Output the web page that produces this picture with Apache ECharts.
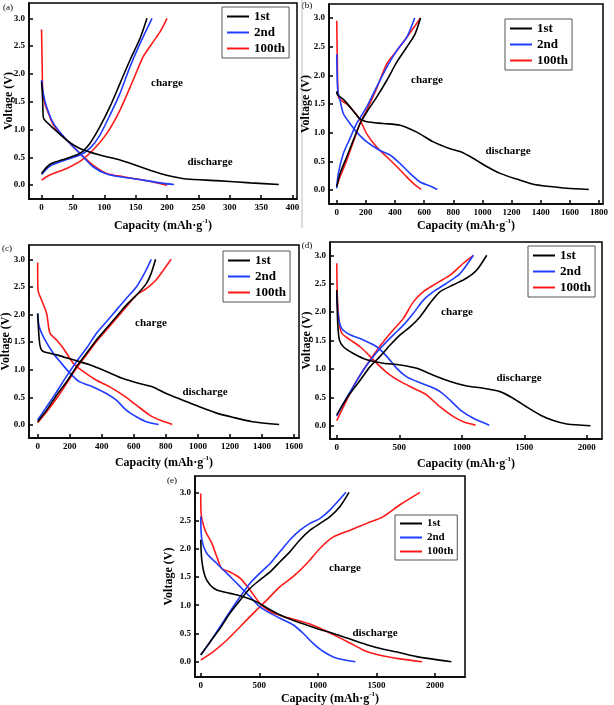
<!DOCTYPE html>
<html>
<head>
<meta charset="utf-8">
<script src="https://cdn.jsdelivr.net/npm/echarts@6/dist/echarts.min.js"></script>
<style>
  html, body { margin: 0; padding: 0; background: #fff; }
  #chart { width: 614px; height: 705px; }
</style>
</head>
<body>
<div id="chart"></div>
<script>
// capacity (mAh/g), voltage (V)
// panel (a)
var a1Dis = [[0,1.85],[1.5,1.6],[2.7,1.23],[5,1.17],[19,1.02],[40,0.81],[61,0.66],[93,0.54],[125,0.45],[157,0.33],[189,0.21],[210,0.15],[231,0.11],[279,0.08],[333,0.04],[378,0.01]];
var a1Chg = [[0,0.21],[13,0.37],[40,0.48],[61,0.57],[77,0.75],[93,1.05],[109,1.41],[125,1.83],[141,2.25],[157,2.64],[168,3.0]];
var a2Dis = [[0,1.89],[2.7,1.65],[8,1.41],[19,1.11],[40,0.81],[61,0.57],[82,0.33],[104,0.2],[130,0.14],[162,0.09],[189,0.04],[211,0.01]];
var a2Chg = [[0,0.19],[13,0.34],[40,0.46],[61,0.54],[77,0.66],[93,0.9],[109,1.26],[125,1.65],[141,2.13],[157,2.55],[176,3.0]];
var a3Dis = [[0,2.8],[1,2.13],[2,1.65],[5,1.47],[11,1.29],[19,1.08],[40,0.81],[61,0.57],[82,0.36],[104,0.21],[130,0.15],[157,0.1],[184,0.04],[200,0.0]];
var a3Chg = [[0,0.09],[13,0.18],[40,0.3],[64,0.45],[82,0.63],[104,0.93],[125,1.35],[146,1.89],[162,2.31],[178,2.58],[189,2.76],[200,3.0]];
// panel (b)
var b1Dis = [[0,1.72],[5,1.66],[46,1.58],[91,1.45],[160,1.24],[206,1.19],[320,1.16],[435,1.13],[549,1.01],[663,0.84],[778,0.72],[846,0.67],[938,0.55],[1029,0.41],[1121,0.29],[1235,0.19],[1349,0.1],[1464,0.06],[1578,0.03],[1730,0.01]];
var b1Chg = [[0,0.06],[23,0.29],[69,0.58],[114,0.87],[160,1.16],[206,1.36],[274,1.62],[343,1.91],[412,2.23],[480,2.49],[537,2.72],[575,3.0]];
var b2Dis = [[0,2.37],[7,1.74],[23,1.56],[46,1.33],[91,1.16],[137,1.01],[206,0.84],[297,0.69],[366,0.61],[435,0.46],[503,0.29],[572,0.14],[640,0.07],[690,0.01]];
var b2Chg = [[0,0.03],[11,0.29],[46,0.64],[91,0.9],[137,1.16],[206,1.45],[274,1.8],[343,2.14],[412,2.43],[480,2.66],[535,3.0]];
var b3Dis = [[0,2.95],[5,2.14],[11,1.62],[34,1.56],[91,1.45],[160,1.22],[206,0.98],[274,0.75],[343,0.58],[412,0.41],[480,0.23],[537,0.09],[580,0.01]];
var b3Chg = [[0,0.06],[23,0.23],[69,0.52],[114,0.84],[160,1.16],[206,1.39],[274,1.77],[343,2.2],[412,2.43],[480,2.66],[575,3.0]];
// panel (c)
var c1Dis = [[0,2.02],[10,1.54],[19,1.39],[35,1.33],[118,1.27],[222,1.18],[325,1.09],[429,0.97],[533,0.84],[636,0.75],[719,0.69],[802,0.57],[906,0.45],[1010,0.33],[1113,0.22],[1217,0.14],[1341,0.06],[1507,0.01]];
var c1Chg = [[0,0.06],[56,0.27],[118,0.54],[180,0.78],[243,1.06],[305,1.3],[367,1.54],[429,1.75],[491,1.96],[553,2.17],[616,2.35],[678,2.56],[709,2.75],[736,3.0]];
var c2Dis = [[0,2.02],[10,1.78],[46,1.54],[97,1.3],[139,1.15],[201,0.94],[263,0.78],[346,0.69],[429,0.57],[491,0.45],[553,0.27],[616,0.15],[678,0.06],[755,0.01]];
var c2Chg = [[0,0.09],[56,0.33],[118,0.6],[180,0.88],[243,1.15],[305,1.39],[367,1.66],[429,1.87],[491,2.08],[553,2.29],[616,2.5],[667,2.75],[709,3.0]];
var c3Dis = [[0,2.94],[2,2.44],[25,2.26],[56,2.02],[77,1.66],[118,1.54],[160,1.39],[222,1.12],[284,0.97],[367,0.81],[450,0.69],[533,0.54],[616,0.36],[699,0.18],[771,0.08],[840,0.01]];
var c3Chg = [[0,0.04],[56,0.24],[118,0.48],[180,0.75],[243,1.03],[305,1.27],[367,1.51],[429,1.72],[491,1.93],[553,2.14],[616,2.35],[678,2.47],[740,2.63],[833,3.0]];
// panel (d)
var d1Dis = [[0,2.39],[8,1.8],[21,1.51],[53,1.39],[133,1.27],[240,1.16],[373,1.1],[507,1.07],[640,1.01],[773,0.89],[907,0.78],[1040,0.7],[1173,0.66],[1307,0.6],[1413,0.48],[1520,0.33],[1627,0.19],[1733,0.09],[1840,0.03],[2030,0.0]];
var d1Chg = [[0,0.19],[53,0.39],[107,0.57],[187,0.8],[267,1.04],[347,1.22],[427,1.42],[507,1.6],[587,1.74],[667,1.92],[747,2.16],[827,2.36],[933,2.48],[1040,2.6],[1120,2.74],[1200,3.0]];
var d2Dis = [[0,2.33],[13,1.92],[40,1.71],[107,1.6],[213,1.51],[320,1.39],[400,1.22],[480,1.01],[560,0.86],[640,0.78],[747,0.69],[827,0.6],[907,0.45],[987,0.28],[1093,0.13],[1220,0.01]];
var d2Chg = [[0,0.17],[53,0.39],[133,0.69],[213,0.98],[293,1.22],[373,1.42],[453,1.6],[533,1.77],[613,1.98],[693,2.21],[773,2.36],[880,2.51],[987,2.68],[1093,3.0]];
var d3Dis = [[0,2.86],[5,2.27],[21,1.8],[40,1.63],[107,1.51],[187,1.39],[267,1.22],[347,1.04],[427,0.89],[507,0.78],[613,0.66],[720,0.54],[827,0.33],[933,0.16],[1013,0.07],[1110,0.01]];
var d3Chg = [[0,0.09],[53,0.33],[133,0.69],[213,0.98],[293,1.24],[373,1.48],[453,1.69],[533,1.89],[613,2.18],[693,2.36],[800,2.51],[907,2.65],[1013,2.86],[1093,3.0]];
// panel (e)
var e1Dis = [[0,2.16],[9,1.8],[37,1.51],[80,1.36],[137,1.27],[250,1.21],[364,1.15],[478,1.06],[592,0.92],[706,0.8],[848,0.69],[990,0.59],[1132,0.5],[1275,0.4],[1417,0.3],[1559,0.22],[1701,0.16],[1844,0.09],[2140,0.0]];
var e1Chg = [[0,0.12],[80,0.35],[165,0.59],[250,0.86],[336,1.09],[421,1.3],[506,1.45],[592,1.59],[677,1.77],[762,1.95],[848,2.16],[933,2.33],[1019,2.45],[1104,2.57],[1189,2.75],[1266,3.0]];
var e2Dis = [[0,2.57],[9,2.16],[51,1.92],[137,1.74],[250,1.51],[336,1.33],[421,1.15],[506,0.97],[592,0.86],[706,0.74],[791,0.65],[876,0.5],[962,0.32],[1047,0.18],[1161,0.06],[1320,0.0]];
var e2Chg = [[0,0.12],[80,0.35],[165,0.62],[250,0.89],[336,1.15],[421,1.39],[506,1.57],[592,1.74],[677,1.95],[762,2.16],[848,2.33],[933,2.45],[1019,2.54],[1104,2.69],[1240,3.0]];
var e3Dis = [[0,2.98],[3,2.63],[37,2.33],[94,2.1],[137,1.86],[179,1.65],[250,1.59],[336,1.48],[421,1.27],[506,1.03],[592,0.89],[706,0.8],[848,0.72],[990,0.62],[1132,0.48],[1275,0.33],[1417,0.18],[1559,0.1],[1701,0.05],[1890,0.0]];
var e3Chg = [[0,0.03],[108,0.18],[222,0.38],[336,0.62],[450,0.86],[563,1.09],[677,1.33],[791,1.51],[905,1.74],[1019,2.01],[1132,2.21],[1275,2.33],[1417,2.45],[1559,2.57],[1701,2.78],[1872,3.0]];

var cycles = ['1st', '2nd', '100th'];
var voltTicks = [0, 0.5, 1.0, 1.5, 2.0, 2.5, 3.0];
var capTicksA = [0, 50, 100, 150, 200, 250, 300, 350, 400];
var capTicksB = [0, 200, 400, 600, 800, 1000, 1200, 1400, 1600, 1800];
var capTicksC = [0, 200, 400, 600, 800, 1000, 1200, 1400, 1600];
var capTicksD = [0, 500, 1000, 1500, 2000];
var capTicksE = [0, 500, 1000, 1500, 2000];

var colors = ['#000000', '#1f3cff', '#ff1a1a'];
var FONT = '"Liberation Serif", "Times New Roman", serif';

// layout of each panel (pixels) and axis extents
var panels = [
  { tag: '(a)', grid: [29, 3, 268, 196], x: [-20, 407], y: [-0.25, 3.275], ticks: capTicksA,
    data: [[a1Dis, a1Chg], [a2Dis, a2Chg], [a3Dis, a3Chg]],
    legend: [222, 7], lgFont: 13, xGap: 19, yGap: 14,
    charge: [167, 83], discharge: [210, 162], tagPos: [8, 8] },
  { tag: '(b)', grid: [329, 4, 274, 200], x: [-53, 1827], y: [-0.244, 3.244], ticks: capTicksB,
    data: [[b1Dis, b1Chg], [b2Dis, b2Chg], [b3Dis, b3Chg]],
    legend: [505, 19], lgFont: 13, xGap: 14, yGap: 17,
    charge: [427, 80], discharge: [508, 151], tagPos: [307, 6] },
  { tag: '(c)', grid: [29, 245, 270, 193], x: [-54, 1631], y: [-0.235, 3.259], ticks: capTicksC,
    data: [[c1Dis, c1Chg], [c2Dis, c2Chg], [c3Dis, c3Chg]],
    legend: [223, 251], lgFont: 13, xGap: 17, yGap: 17,
    charge: [151, 323], discharge: [205, 392], tagPos: [7, 249] },
  { tag: '(d)', grid: [330, 242, 272, 197], x: [-54, 2122], y: [-0.234, 3.234], ticks: capTicksD,
    data: [[d1Dis, d1Chg], [d2Dis, d2Chg], [d3Dis, d3Chg]],
    legend: [528, 246], lgFont: 13, xGap: 17, yGap: 17,
    charge: [457, 312], discharge: [519, 378], tagPos: [307, 246] },
  { tag: '(e)', grid: [195, 476, 270, 201], x: [-49, 2256], y: [-0.271, 3.289], ticks: capTicksE,
    data: [[e1Dis, e1Chg], [e2Dis, e2Chg], [e3Dis, e3Chg]],
    legend: [395, 515], lgFont: 11, xGap: 14, yGap: 20,
    charge: [345, 568], discharge: [375, 633], tagPos: [172, 481] }
];

var nameStyle = {
  fontFamily: FONT, fontWeight: 'bold', fontSize: 12, color: '#000',
  rich: {
    n: { fontFamily: FONT, fontWeight: 'bold', fontSize: 12, color: '#000', lineHeight: 14, verticalAlign: 'bottom' },
    s: { fontFamily: FONT, fontWeight: 'bold', fontSize: 7, color: '#000', lineHeight: 14, verticalAlign: 'top' }
  }
};

var grids = [], xAxes = [], yAxes = [], series = [], legends = [], graphics = [];

panels.forEach(function (p, i) {
  grids.push({
    left: p.grid[0], top: p.grid[1], width: p.grid[2], height: p.grid[3],
    show: true, borderColor: '#000', borderWidth: 1.5, backgroundColor: 'transparent',
    containLabel: false, outerBoundsMode: 'none'
  });
  xAxes.push({
    gridIndex: i, type: 'value', min: p.x[0], max: p.x[1],
    name: '{n|Capacity (mAh·g}{s|-1}{n|)}', nameLocation: 'middle', nameGap: p.xGap,
    nameMoveOverlap: false,
    nameTextStyle: nameStyle,
    axisLine: { show: true, onZero: false, lineStyle: { color: '#000', width: 1.5 } },
    axisTick: { show: true, inside: true, length: 4, customValues: p.ticks, lineStyle: { color: '#000', width: 1.5 } },
    axisLabel: { customValues: p.ticks, margin: 4, fontFamily: FONT, fontWeight: 'bold', fontSize: 9, color: '#000',
      formatter: function (v) { return String(v); } },
    splitLine: { show: false }
  });
  yAxes.push({
    gridIndex: i, type: 'value', min: p.y[0], max: p.y[1],
    name: 'Voltage (V)', nameLocation: 'middle', nameGap: p.yGap, nameRotate: 90,
    nameMoveOverlap: false,
    nameTextStyle: { fontFamily: FONT, fontWeight: 'bold', fontSize: 12, color: '#000' },
    axisLine: { show: true, onZero: false, lineStyle: { color: '#000', width: 1.5 } },
    axisTick: { show: true, inside: true, length: 4, customValues: voltTicks, lineStyle: { color: '#000', width: 1.5 } },
    axisLabel: { customValues: voltTicks, margin: 4, fontFamily: FONT, fontWeight: 'bold', fontSize: 9, color: '#000',
      formatter: function (v) { return v.toFixed(1); } },
    splitLine: { show: false }
  });
  p.data.forEach(function (pair, k) {
    pair.forEach(function (d) {
      series.push({
        name: cycles[k], type: 'line', xAxisIndex: i, yAxisIndex: i,
        data: d, showSymbol: false, symbol: 'none', smooth: 0.25,
        lineStyle: { color: colors[k], width: 1.6 }, itemStyle: { color: colors[k] },
        z: 3 - k
      });
    });
  });
  legends.push({
    data: cycles, left: p.legend[0], top: p.legend[1], orient: 'vertical',
    icon: 'rect', itemWidth: 22, itemHeight: 2, itemGap: 3,
    padding: [3, 4, 3, 5], borderColor: '#555', borderWidth: 1, backgroundColor: '#fff',
    textStyle: { fontFamily: FONT, fontWeight: 'bold', fontSize: p.lgFont, color: '#000' },
    selectedMode: false
  });
  graphics.push(
    { type: 'text', x: p.tagPos[0], y: p.tagPos[1],
      style: { text: p.tag, font: '9px ' + FONT, fill: '#000', align: 'center', verticalAlign: 'middle' } },
    { type: 'text', x: p.charge[0], y: p.charge[1],
      style: { text: 'charge', font: 'bold 11px ' + FONT, fill: '#000', align: 'center', verticalAlign: 'middle' } },
    { type: 'text', x: p.discharge[0], y: p.discharge[1],
      style: { text: 'discharge', font: 'bold 11px ' + FONT, fill: '#000', align: 'center', verticalAlign: 'middle' } }
  );
});

// thin divider between the two top panels
graphics.push({ type: 'line', shape: { x1: 302, y1: 0, x2: 302, y2: 228 }, style: { stroke: '#bbb', lineWidth: 1 } });

var chart = echarts.init(document.getElementById('chart'), null, { renderer: 'canvas' });
chart.setOption({
  animation: false,
  backgroundColor: '#fff',
  grid: grids,
  xAxis: xAxes,
  yAxis: yAxes,
  legend: legends,
  series: series,
  graphic: graphics
});
</script>
</body>
</html>
